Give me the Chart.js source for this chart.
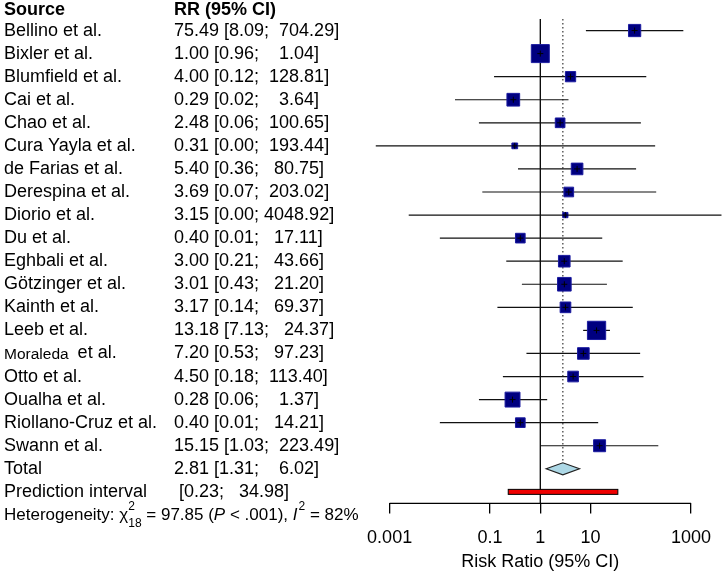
<!DOCTYPE html>
<html>
<head>
<meta charset="utf-8">
<script src="https://cdn.jsdelivr.net/npm/chart.js@4.4.1/dist/chart.umd.min.js"></script>
<style>
  html, body { margin: 0; padding: 0; background: #fff; }
  #wrap { width: 725px; height: 573px; position: relative; }
</style>
</head>
<body>
<div id="wrap"><canvas id="forest"></canvas></div>
<script>
// Study data
const studies = ['Bellino et al.', 'Bixler et al.', 'Blumfield et al.', 'Cai et al.', 'Chao et al.',
  'Cura Yayla et al.', 'de Farias et al.', 'Derespina et al.', 'Diorio et al.', 'Du et al.',
  'Eghbali et al.', 'Götzinger et al.', 'Kainth et al.', 'Leeb et al.', 'Moraleda et al.',
  'Otto et al.', 'Oualha et al.', 'Riollano-Cruz et al.', 'Swann et al.'];
const rr = [75.49, 1.00, 4.00, 0.29, 2.48, 0.31, 5.40, 3.69, 3.15, 0.40, 3.00, 3.01, 3.17, 13.18, 7.20, 4.50, 0.28, 0.40, 15.15];
const ciLow = [8.09, 0.96, 0.12, 0.02, 0.06, 0.00053, 0.36, 0.07, 0.0024, 0.01, 0.21, 0.43, 0.14, 7.13, 0.53, 0.18, 0.06, 0.01, 1.03];
const ciHigh = [704.29, 1.04, 128.81, 3.64, 100.65, 193.44, 80.75, 203.02, 4048.92, 17.11, 43.66, 21.20, 69.37, 24.37, 97.23, 113.40, 1.37, 14.21, 223.49];
// study weights (%), estimated from square sizes
const weights = [5.4, 11.1, 3.9, 5.8, 3.5, 1.4, 4.9, 3.5, 1.2, 3.5, 4.9, 6.6, 4.2, 11.4, 4.9, 4.2, 7.8, 3.5, 5.2];
const total = [2.81, 1.31, 6.02];
const predInterval = [0.23, 34.98];
const tickValues = [0.001, 0.1, 1, 10, 1000];
const tickLabels = ['0.001', '0.1', '1', '10', '1000'];

const FONT = "'Liberation Sans', Arial, sans-serif";
Chart.defaults.font.family = FONT;
Chart.defaults.color = '#000';

const fmt = v => v.toFixed(2);
const pad = (s, n) => s.padStart(n, ' ');
function rrText(est, lo, hi) {
    return fmt(est) + ' [' + fmt(lo) + '; ' + pad(fmt(hi), 7) + ']';
}

const forestPlugin = {
    id: 'forest',
    beforeDatasetsDraw(chart) {
        const { ctx, chartArea, scales: { x, y } } = chart;
        ctx.save();
        // line of no effect
        const x1 = x.getPixelForValue(1);
        ctx.strokeStyle = '#000';
        ctx.lineWidth = 1.3;
        ctx.beginPath();
        ctx.moveTo(x1, chartArea.top);
        ctx.lineTo(x1, chartArea.bottom);
        ctx.stroke();

        // dotted line at pooled estimate
        const xt = x.getPixelForValue(total[0]);
        ctx.strokeStyle = '#444';
        ctx.lineWidth = 1.3;
        ctx.setLineDash([1.5, 2.5]);
        ctx.beginPath();
        ctx.moveTo(xt, chartArea.top);
        ctx.lineTo(xt, y.getPixelForValue(studies.length) - 6);
        ctx.stroke();
        ctx.setLineDash([]);

        // confidence intervals
        ctx.strokeStyle = '#111';
        ctx.lineWidth = 1.2;
        rr.forEach((v, i) => {
            const py = y.getPixelForValue(i);
            ctx.beginPath();
            ctx.moveTo(x.getPixelForValue(ciLow[i]), py);
            ctx.lineTo(x.getPixelForValue(ciHigh[i]), py);
            ctx.stroke();
        });
        ctx.restore();
    },
    afterDatasetsDraw(chart) {
        const { ctx, chartArea, scales: { x, y } } = chart;
        ctx.save();
        // small cross on each square
        ctx.strokeStyle = '#000';
        ctx.lineWidth = 1;
        rr.forEach((v, i) => {
            const px = x.getPixelForValue(v);
            const py = y.getPixelForValue(i);
            ctx.beginPath();
            ctx.moveTo(px - 3, py); ctx.lineTo(px + 3, py);
            ctx.moveTo(px, py - 3); ctx.lineTo(px, py + 3);
            ctx.stroke();
        });

        // pooled diamond
        const ty = y.getPixelForValue(studies.length);
        ctx.beginPath();
        ctx.moveTo(x.getPixelForValue(total[1]), ty);
        ctx.lineTo(x.getPixelForValue(total[0]), ty - 6);
        ctx.lineTo(x.getPixelForValue(total[2]), ty);
        ctx.lineTo(x.getPixelForValue(total[0]), ty + 6);
        ctx.closePath();
        ctx.fillStyle = '#ADD8E6';
        ctx.fill();
        ctx.strokeStyle = '#222';
        ctx.lineWidth = 1.2;
        ctx.stroke();

        // prediction interval bar
        const py = y.getPixelForValue(studies.length + 1);
        const pl = x.getPixelForValue(predInterval[0]);
        const pr = x.getPixelForValue(predInterval[1]);
        ctx.fillStyle = '#F00000';
        ctx.fillRect(pl, py - 2.5, pr - pl, 5);
        ctx.strokeStyle = '#000';
        ctx.lineWidth = 1;
        ctx.strokeRect(pl, py - 2.5, pr - pl, 5);

        // x axis line between outer ticks, and its title
        const axL = x.getPixelForValue(tickValues[0]);
        const axR = x.getPixelForValue(tickValues[tickValues.length - 1]);
        ctx.lineWidth = 1.3;
        ctx.beginPath();
        ctx.moveTo(axL, chartArea.bottom);
        ctx.lineTo(axR, chartArea.bottom);
        ctx.stroke();
        ctx.fillStyle = '#000';
        ctx.textBaseline = 'middle';
        ctx.textAlign = 'center';
        ctx.font = '18px ' + FONT;
        ctx.fillText('Risk Ratio (95% CI)', (axL + axR) / 2, chartArea.bottom + 59);

        // text columns
        const colName = 4, colRR = 174;
        ctx.textAlign = 'left';
        const hy = y.getPixelForValue(-0.9);
        ctx.font = 'bold 18px ' + FONT;
        ctx.fillText('Source', colName, hy);
        ctx.fillText('RR (95% CI)', colRR, hy);

        ctx.font = '18px ' + FONT;
        studies.forEach((name, i) => {
            const ry = y.getPixelForValue(i);
            if (name.startsWith('Moraleda')) {
                ctx.font = '15.5px ' + FONT;
                ctx.fillText('Moraleda', colName, ry + 1);
                const w = ctx.measureText('Moraleda').width;
                ctx.font = '18px ' + FONT;
                ctx.fillText('et al.', colName + w + 9, ry);
            } else {
                ctx.fillText(name, colName, ry);
            }
            ctx.fillText(rrText(rr[i], ciLow[i], ciHigh[i]), colRR, ry);
        });
        ctx.fillText('Total', colName, ty);
        ctx.fillText(rrText(total[0], total[1], total[2]), colRR, ty);
        ctx.fillText('Prediction interval', colName, py);
        ctx.fillText(' [' + fmt(predInterval[0]) + '; ' + pad(fmt(predInterval[1]), 7) + ']', colRR, py);

        // heterogeneity line
        const hgY = y.getPixelForValue(studies.length + 2);
        let hx = colName;
        const part = (txt, font, dy) => {
            ctx.font = font;
            ctx.fillText(txt, hx, hgY + (dy || 0));
            hx += ctx.measureText(txt).width;
        };
        const base = '17px ' + FONT;
        const ital = 'italic 17px ' + FONT;
        const small = '12px ' + FONT;
        part('Heterogeneity: χ', base);
        ctx.font = small;
        ctx.fillText('2', hx, hgY - 8);
        ctx.fillText('18', hx, hgY + 9);
        hx += ctx.measureText('18').width;
        part(' = 97.85 (', base);
        part('P', ital);
        part(' < .001), ', base);
        part('I', ital);
        hx += 1;
        ctx.font = small;
        ctx.fillText('2', hx, hgY - 8);
        hx += ctx.measureText('2').width;
        part(' = 82%', base);
        ctx.restore();
    }
};

const ctx = document.getElementById('forest').getContext('2d');
new Chart(ctx, {
    type: 'scatter',
    data: {
        datasets: [{
            label: 'Studies',
            data: rr.map((v, i) => ({ x: v, y: i })),
            pointStyle: 'rect',
            pointRadius: weights.map(w => (5.7 * Math.sqrt(w) - 1) / Math.SQRT2),
            backgroundColor: '#000080',
            borderColor: '#1c1ca0',
            borderWidth: 1
        }]
    },
    options: {
        responsive: true,
        maintainAspectRatio: false,
        animation: false,
        events: [],
        layout: { autoPadding: false, padding: { left: 339.4, right: 0, top: 19, bottom: 10 } },
        scales: {
            x: {
                type: 'logarithmic',
                min: 1e-4,
                max: 4500,
                afterBuildTicks: scale => {
                    scale.ticks = tickValues.map(v => ({ value: v }));
                },
                border: { display: false },
                grid: { drawOnChartArea: false, drawTicks: true, tickLength: 10, color: '#000', lineWidth: 1.3 },
                ticks: {
                    autoSkip: false,
                    maxRotation: 0,
                    padding: 14,
                    color: '#000',
                    font: { size: 18 },
                    callback: (v, i) => tickLabels[i]
                }
            },
            y: {
                type: 'linear',
                display: false,
                reverse: true,
                min: -0.5,
                max: studies.length + 1.5
            }
        },
        plugins: {
            legend: { display: false },
            tooltip: { enabled: false }
        }
    },
    plugins: [forestPlugin]
});
</script>
</body>
</html>
